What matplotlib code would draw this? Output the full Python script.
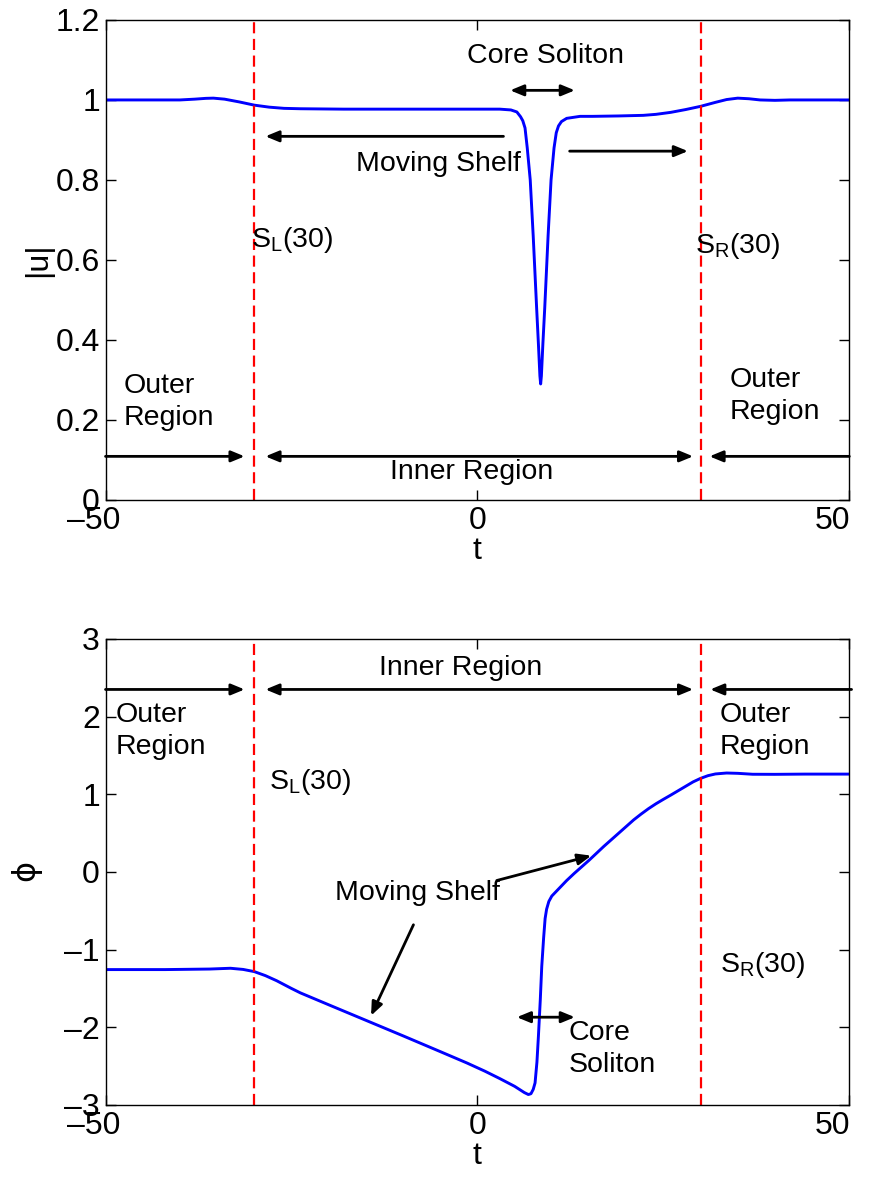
import numpy as np
import matplotlib
matplotlib.use('Agg')
import matplotlib.pyplot as plt
from matplotlib.transforms import ScaledTranslation

plt.rcParams['font.family'] = ['Liberation Sans', 'DejaVu Sans']

# === Data ===
# top panel: |u| versus t
t_u = [-50, -45, -40, -38, -36.5, -35.5, -34, -32, -30, -28, -26, -23.8, -18, -10.4,
       -3, 3.0, 4.5, 5.3, 5.8, 6.1, 6.4, 6.7, 7.1, 7.5, 7.96, 8.2, 8.4, 8.5, 8.6,
       8.8, 9.05, 9.5, 9.9, 10.3, 10.6, 10.9, 11.3, 12.0, 13.8, 15.5, 19, 22.3, 24,
       26, 28, 30, 32, 33.5, 35, 36.5, 38, 40, 42, 44.7, 50]
u_vals = [1.0, 1.0, 1.0, 1.002, 1.004, 1.0045, 1.002, 0.995, 0.987, 0.982, 0.979,
          0.978, 0.977, 0.977, 0.977, 0.977, 0.975, 0.970, 0.958, 0.948, 0.93, 0.88,
          0.80, 0.66, 0.48, 0.39, 0.31, 0.29, 0.31, 0.39, 0.48, 0.66, 0.80, 0.88,
          0.918, 0.935, 0.946, 0.954, 0.959, 0.959, 0.960, 0.9615, 0.964, 0.969, 0.976,
          0.984, 0.994, 1.001, 1.0045, 1.003, 1.0, 0.999, 1.0, 1.0, 1.0]

# bottom panel: phi versus t
t_phi = [-50, -42, -36, -33.2, -31.5, -30, -28.5, -27, -25, -23.8, -20, -15, -10, -5,
         -1.4, 1, 3, 5, 6.3, 6.85, 7.2, 7.5, 7.75, 8.0, 8.2, 8.45, 8.65, 8.9, 9.1, 9.3,
         9.6, 10.0, 10.5, 11, 12, 13, 15, 17, 19, 21, 22, 23, 24, 25, 26, 27.5, 29, 30,
         31, 32, 33.5, 35, 37, 40, 44, 50]
phi_vals = [-1.257, -1.257, -1.25, -1.24, -1.255, -1.283, -1.335, -1.40, -1.50, -1.557,
            -1.71, -1.91, -2.11, -2.313, -2.46, -2.565, -2.66, -2.76, -2.84, -2.866,
            -2.855, -2.80, -2.716, -2.45, -2.116, -1.65, -1.215, -0.85, -0.60, -0.48,
            -0.38, -0.31, -0.26, -0.21, -0.11, -0.02, 0.15, 0.33, 0.50, 0.67, 0.745,
            0.815, 0.878, 0.935, 0.99, 1.075, 1.16, 1.205, 1.24, 1.262, 1.274, 1.27,
            1.258, 1.257, 1.26, 1.26]

boundaries = [-30, 30]
x_ticks = [-50, 0, 50]
u_ticks = [0, 0.2, 0.4, 0.6, 0.8, 1, 1.2]
phi_ticks = [-3, -2, -1, 0, 1, 2, 3]

# === Figure ===
fig = plt.figure(figsize=(8.72, 11.8), dpi=100)
ax1 = fig.add_axes([0.121, 0.5763, 0.853, 0.4068])
ax2 = fig.add_axes([0.121, 0.0636, 0.853, 0.3949])

tick_fs = 23
txt_fs = 20.5
arrow_kw = dict(arrowstyle='-|>,head_length=0.8,head_width=0.33', color='black', lw=2,
                shrinkA=0, shrinkB=0)
darrow_kw = dict(arrowstyle='<|-|>,head_length=0.8,head_width=0.33', color='black', lw=2,
                 shrinkA=0, shrinkB=0)


def neg(v):
    return str(v) if v >= 0 else '\u2013' + str(-v)


def style(ax, yticks, ylim):
    ax.set_xlim(-50, 50)
    ax.set_ylim(*ylim)
    ax.set_xticks(x_ticks)
    ax.set_xticklabels([neg(v) for v in x_ticks])
    ax.set_yticks(yticks)
    ax.tick_params(direction='in', length=7, width=1, top=True, right=True,
                   labelsize=tick_fs, pad=4)
    # end labels sit a little to the left, like in the original export
    ticks = ax.xaxis.get_major_ticks()
    for tk, dx in zip(ticks, [-12, 0, -17]):
        lab = tk.label1
        lab.set_transform(lab.get_transform() + ScaledTranslation(dx / 100, 0, fig.dpi_scale_trans))
    for s in ax.spines.values():
        s.set_linewidth(1)
    ax.set_xlabel('t', fontsize=tick_fs, labelpad=0)
    for x in boundaries:
        ax.axvline(x, color='red', ls=(0, (5, 2.5)), lw=1.6)


# --- top panel ---
ax1.plot(t_u, u_vals, color='blue', lw=2.1)
style(ax1, u_ticks, (0, 1.2))
ax1.set_yticklabels(['0', '0.2', '0.4', '0.6', '0.8', '1', '1.2'])
ax1.set_ylabel('|u|', fontsize=tick_fs, labelpad=2)

ax1.text(9.2, 1.11, 'Core Soliton', fontsize=txt_fs, ha='center', va='center')
ax1.annotate('', xy=(13.1, 1.024), xytext=(4.4, 1.024), arrowprops=darrow_kw)
ax1.annotate('', xy=(-28.5, 0.909), xytext=(3.5, 0.909), arrowprops=arrow_kw)
ax1.annotate('', xy=(28.3, 0.872), xytext=(12.4, 0.872), arrowprops=arrow_kw)
ax1.text(-5.3, 0.84, 'Moving Shelf', fontsize=txt_fs, ha='center', va='center')
ax1.text(-30.4, 0.65, r'S$_{\mathregular{L}}$(30)', fontsize=txt_fs, ha='left', va='center')
ax1.text(29.2, 0.635, r'S$_{\mathregular{R}}$(30)', fontsize=txt_fs, ha='left', va='center')
ax1.text(-47.6, 0.245, 'Outer\nRegion', fontsize=txt_fs, ha='left', va='center',
         linespacing=1.3)
ax1.text(33.9, 0.26, 'Outer\nRegion', fontsize=txt_fs, ha='left', va='center',
         linespacing=1.3)
ax1.annotate('', xy=(-31.3, 0.109), xytext=(-50, 0.109), arrowprops=arrow_kw)
ax1.annotate('', xy=(29, 0.109), xytext=(-28.5, 0.109), arrowprops=darrow_kw)
ax1.annotate('', xy=(31.2, 0.109), xytext=(50, 0.109), arrowprops=arrow_kw)
ax1.text(-0.8, 0.07, 'Inner Region', fontsize=txt_fs, ha='center', va='center')

# --- bottom panel ---
ax2.plot(t_phi, phi_vals, color='blue', lw=2.1)
style(ax2, phi_ticks, (-3, 3))
ax2.set_yticklabels([neg(v) for v in phi_ticks])
ax2.set_ylabel(r'$\mathrm{\phi}$', fontsize=tick_fs, labelpad=14)

ax2.annotate('', xy=(-31.3, 2.35), xytext=(-50, 2.35), arrowprops=arrow_kw,
             annotation_clip=False)
ax2.annotate('', xy=(29, 2.35), xytext=(-28.5, 2.35), arrowprops=darrow_kw)
ax2.annotate('', xy=(31.3, 2.35), xytext=(50.3, 2.35), arrowprops=arrow_kw,
             annotation_clip=False)
ax2.text(-2.2, 2.63, 'Inner Region', fontsize=txt_fs, ha='center', va='center')
ax2.text(-48.6, 1.81, 'Outer\nRegion', fontsize=txt_fs, ha='left', va='center',
         linespacing=1.3)
ax2.text(32.6, 1.81, 'Outer\nRegion', fontsize=txt_fs, ha='left', va='center',
         linespacing=1.3)
ax2.text(-28.0, 1.16, r'S$_{\mathregular{L}}$(30)', fontsize=txt_fs, ha='left', va='center')
ax2.text(32.6, -1.2, r'S$_{\mathregular{R}}$(30)', fontsize=txt_fs, ha='left', va='center')
ax2.text(-8.0, -0.27, 'Moving Shelf', fontsize=txt_fs, ha='center', va='center')
ax2.annotate('', xy=(15.3, 0.21), xytext=(2.6, -0.11), arrowprops=arrow_kw)
ax2.annotate('', xy=(-14.3, -1.85), xytext=(-8.6, -0.68), arrowprops=arrow_kw)
ax2.annotate('', xy=(13.1, -1.87), xytext=(5.3, -1.87), arrowprops=darrow_kw)
ax2.text(12.3, -2.28, 'Core\nSoliton', fontsize=txt_fs, ha='left', va='center',
         linespacing=1.3)

fig.savefig('out.png', dpi=100)
